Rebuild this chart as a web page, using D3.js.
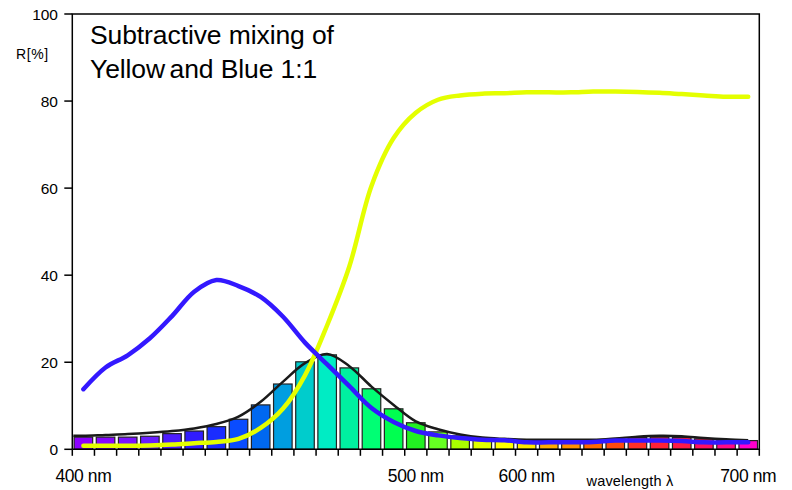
<!doctype html>
<html>
  <head>
    <script src="https://cdn.jsdelivr.net/npm/d3@7/dist/d3.min.js"></script>
    <style>
      body { margin: 0; background: #fff; }
      svg { font-family: "Liberation Sans", Arial, sans-serif; }
    </style>
  </head>
  <body>
    <svg id="chart" width="792" height="490"></svg>
    <script>
      // wavelengths in nm, one bar per 10 nm
      var wavelengths = d3.range(400, 701, 10);

      // mixed result (bars) and its smooth line
      var mixBars = [2.8, 2.8, 2.8, 3.0, 3.6, 4.2, 5.2, 6.9, 10.2, 15.0, 20.1, 21.7, 18.7, 13.9, 9.3, 6.1,
                     4.0, 3.1, 2.5, 2.3, 2.0, 2.0, 2.0, 2.0, 2.3, 2.7, 2.8, 2.7, 2.4, 2.1, 2.0];
      var mixLine = [3.1, 3.3, 3.5, 3.8, 4.2, 4.8, 5.8, 7.5, 10.9, 15.5, 19.8, 21.9, 19.1, 14.4, 10.2, 6.4,
                     4.6, 3.4, 2.7, 2.4, 2.2, 2.2, 2.2, 2.2, 2.5, 2.9, 3.1, 3.0, 2.6, 2.3, 2.1];
      var yellow = [0.8, 0.8, 0.8, 0.9, 1.1, 1.4, 1.7, 2.4, 4.9, 9.3, 17.0, 28.5, 42.0, 60.5, 71.5, 77.3,
                    80.3, 81.3, 81.7, 81.8, 82.0, 82.0, 82.0, 82.2, 82.2, 82.1, 81.9, 81.6, 81.3, 81.0, 81.0];
      var blue = [13.8, 18.8, 21.6, 25.5, 30.6, 36.2, 38.9, 37.5, 35.0, 30.5, 24.5, 19.5, 14.5, 9.5, 6.3, 4.2,
                  3.2, 2.6, 2.2, 2.1, 1.6, 1.6, 1.6, 1.7, 2.0, 2.0, 2.0, 1.9, 1.6, 1.6, 1.6];
      var barColors = ["#8c00ff", "#8606ff", "#7a12ff", "#681cff", "#4d1cff", "#301cff", "#1a2cff", "#0a4cff",
                       "#0068f0", "#009ee0", "#00cccc", "#00ecc4", "#00f0a0", "#00ff74", "#00ff50", "#22f022",
                       "#66ff22", "#aaff00", "#e0ff00", "#ffff00", "#ffe600", "#ffaa00", "#ff9000", "#ff6a00",
                       "#ff4a10", "#ff3028", "#ff2236", "#ff1a48", "#ff1062", "#ff0a86", "#ff00cc"];

      var yTicks = [0, 20, 40, 60, 80, 100];
      // label text and the wavelength column it sits under
      var xLabels = [{at: 400, text: "400 nm"}, {at: 550, text: "500 nm"},
                     {at: 600, text: "600 nm"}, {at: 700, text: "700 nm"}];

      var svg = d3.select("#chart");
      var plotL = 72.3, plotR = 759.3, plotT = 14, plotB = 449.3;

      var x = d3.scaleBand().domain(wavelengths).range([plotL, plotR]).padding(0);
      var y = d3.scaleLinear().domain([0, 100]).range([plotB, plotT]);
      var cx = d => x(d) + x.bandwidth() / 2;

      // bars
      svg.append("g").selectAll("rect")
        .data(wavelengths)
        .enter()
        .append("rect")
          .attr("x", d => x(d) + 1.8)
          .attr("width", x.bandwidth() - 3.6)
          .attr("y", (d, i) => y(mixBars[i]))
          .attr("height", (d, i) => plotB - y(mixBars[i]))
          .attr("fill", (d, i) => barColors[i])
          .attr("stroke", "#222")
          .attr("stroke-width", 1.2);

      function curvePath(values, extendLeft) {
        var pts = wavelengths.map((w, i) => [cx(w), y(values[i])]);
        if (extendLeft) pts.unshift([plotL + 1, y(values[0])]);
        return d3.line().curve(d3.curveCatmullRom.alpha(0.5))(pts);
      }

      svg.append("path").attr("d", curvePath(mixLine, true))
        .attr("fill", "none").attr("stroke", "#1a1a1a").attr("stroke-width", 2.5);
      svg.append("path").attr("d", curvePath(yellow))
        .attr("fill", "none").attr("stroke", "#e4ff00").attr("stroke-width", 4.5)
        .attr("stroke-linejoin", "round").attr("stroke-linecap", "round");
      svg.append("path").attr("d", curvePath(blue))
        .attr("fill", "none").attr("stroke", "#3318ff").attr("stroke-width", 4.5)
        .attr("stroke-linejoin", "round").attr("stroke-linecap", "round");

      // frame
      var frame = svg.append("g").attr("stroke", "#000").attr("stroke-width", 1.5).attr("fill", "none");
      frame.append("path").attr("d", d3.line()([[plotL, plotB], [plotL, plotT], [plotR, plotT], [plotR, plotB], [plotL, plotB]]));

      // x ticks at band edges
      var edges = wavelengths.map(w => x(w)).concat([plotR]);
      frame.selectAll("line.xt").data(edges).enter().append("line")
        .attr("x1", d => d).attr("x2", d => d)
        .attr("y1", plotB).attr("y2", plotB + 6.5);

      // y ticks
      frame.selectAll("line.yt").data(yTicks).enter().append("line")
        .attr("x1", plotL - 8).attr("x2", plotL)
        .attr("y1", d => y(d)).attr("y2", d => y(d));

      svg.append("g").selectAll("text").data(yTicks).enter().append("text")
        .attr("x", 58).attr("y", d => y(d) + 5.5)
        .attr("text-anchor", "end").attr("font-size", 15.5)
        .text(d => d);

      svg.append("g").selectAll("text").data(xLabels).enter().append("text")
        .attr("x", d => cx(d.at)).attr("y", 482)
        .attr("text-anchor", "middle").attr("font-size", 17.5).attr("letter-spacing", -0.4)
        .text(d => d.text);

      svg.append("text").attr("x", 16).attr("y", 59).attr("font-size", 14).attr("letter-spacing", 0.6)
        .text("R[%]");

      svg.append("text").attr("x", 630).attr("y", 486).attr("text-anchor", "middle")
        .attr("font-size", 14.5).attr("letter-spacing", 0.2)
        .text("wavelength λ");

      svg.append("text").attr("x", 90).attr("y", 44).attr("font-size", 26.5).attr("letter-spacing", -0.1)
        .text("Subtractive mixing of");
      var line2 = svg.append("text").attr("x", 90).attr("y", 78).attr("font-size", 26.5).attr("letter-spacing", -0.1);
      line2.append("tspan").text("Yellow");
      line2.append("tspan").attr("dx", 4.5).text("and Blue 1:1");
    </script>
  </body>
</html>
